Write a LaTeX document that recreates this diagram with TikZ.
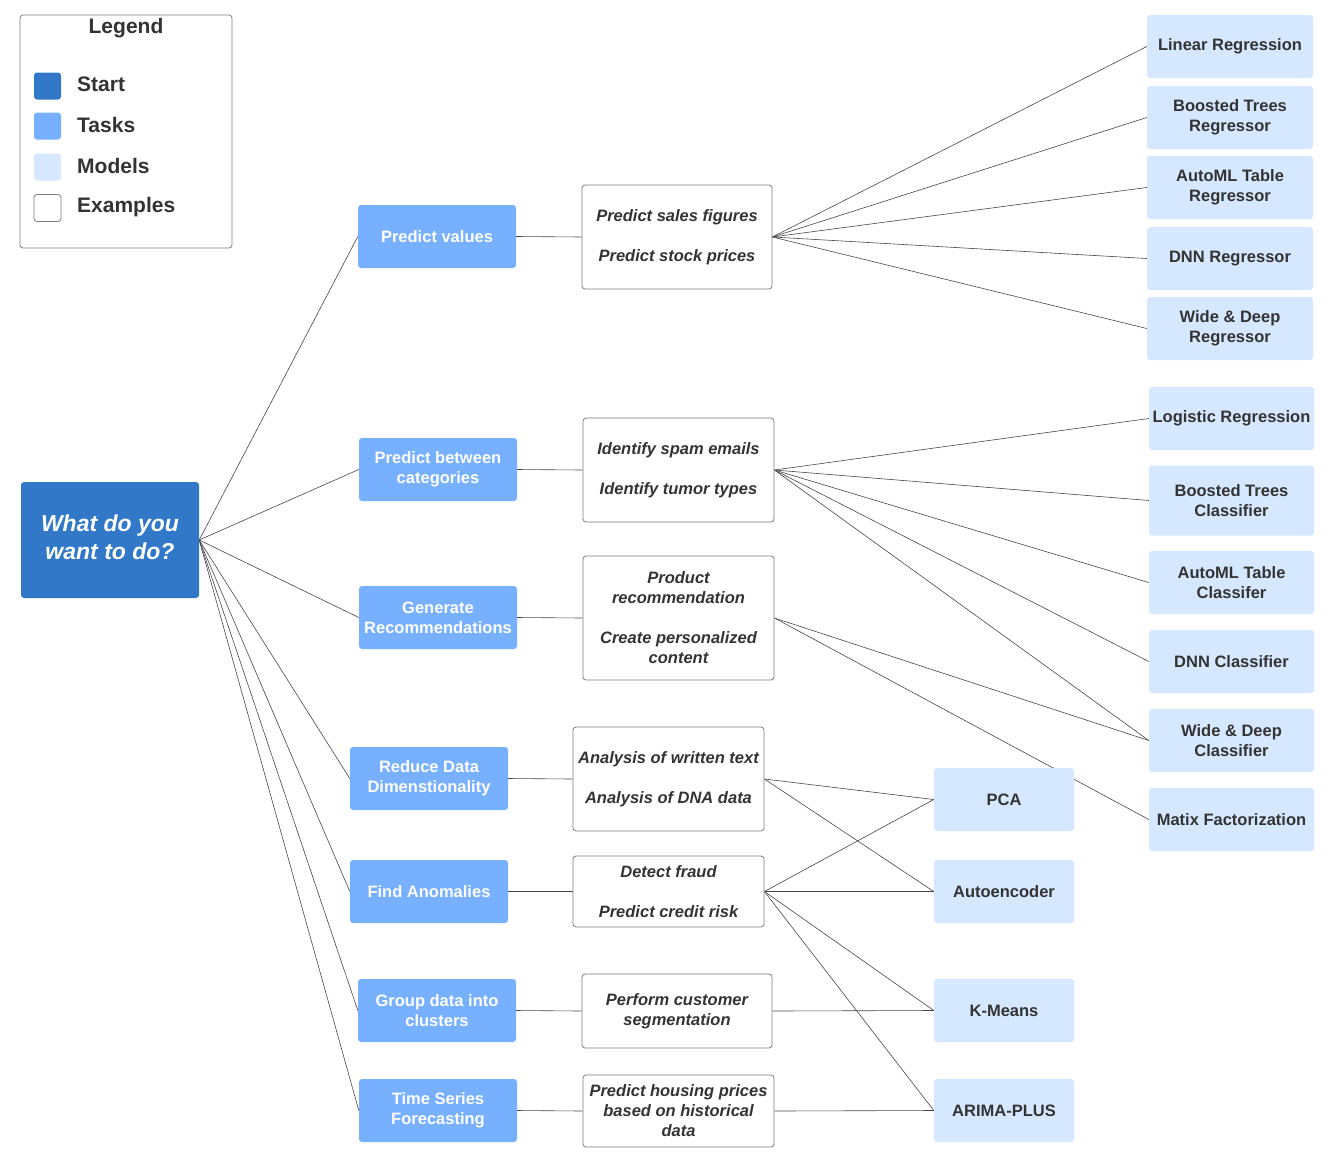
\documentclass[tikz,border=0pt]{standalone}
\usepackage{fontspec}
\setmainfont{Liberation Sans}
\usetikzlibrary{positioning, backgrounds}
\definecolor{startblue}{RGB}{49, 120, 200}
\definecolor{taskblue}{RGB}{118, 176, 255}
\definecolor{modelblue}{RGB}{214, 232, 255}
\definecolor{textgray}{RGB}{51, 51, 51}
\definecolor{linegray}{RGB}{70, 70, 70}
\definecolor{boxgray}{RGB}{125, 125, 125}

\tikzset{
  base/.style={font=\fontsize{16.5}{20}\selectfont\bfseries, align=center, inner sep=0pt},
  task/.style={base, fill=taskblue, rounded corners=3pt, text=white, minimum width=158pt, minimum height=63pt},
  model/.style={base, fill=modelblue, rounded corners=3pt, text=textgray, minimum width=166pt, minimum height=63pt},
  midmodel/.style={model, minimum width=140pt},
  example/.style={base, font=\fontsize{16.5}{20}\selectfont\bfseries\itshape, draw=boxgray, line width=0.8pt, fill=white, rounded corners=3pt, text=textgray, minimum width=191pt},
  swatch/.style={rounded corners=3pt, minimum size=27pt, inner sep=0pt},
  legendtext/.style={font=\fontsize{21}{25}\selectfont\bfseries, text=textgray, anchor=west, inner sep=0pt},
  link/.style={draw=linegray, line width=0.6pt},
}

\begin{document}
\begin{tikzpicture}[x=1pt, y=-1pt]
  \useasboundingbox (0, 0) rectangle (1333, 1157);

  % Legend
  \node[draw=boxgray, line width=0.8pt, rounded corners=3pt, minimum width=212pt, minimum height=233pt] (legend) at (126, 131.5) {};
  \node[font=\fontsize{21}{25}\selectfont\bfseries, text=textgray] (legtitle) at (126, 28) {Legend};
  \node[swatch, fill=startblue] (swstart) at (47.5, 86) {};
  \node[swatch, fill=taskblue] (swtask) at (47.5, 126) {};
  \node[swatch, fill=modelblue] (swmodel) at (47.5, 167) {};
  \node[swatch, draw=boxgray, line width=0.8pt, fill=white] (swex) at (47.5, 208) {};
  \node[legendtext] (lstart) at (77, 84) {Start};
  \node[legendtext] (ltask) at (77, 125) {Tasks};
  \node[legendtext] (lmodel) at (77, 166) {Models};
  \node[legendtext] (lex) at (77, 207) {Examples};

  % Start
  \node[fill=startblue, rounded corners=3pt, text=white, minimum width=178pt, minimum height=116pt, align=center, inner sep=0pt, font=\fontsize{23}{28.5}\selectfont\bfseries\itshape] (start) at (110, 540) {What do you\\want to do?\\[-23pt]};

  % Tasks
  \node[task] (pv) at (437, 236.5) {Predict values};
  \node[task] (cat) at (438, 469.5) {Predict between\\categories};
  \node[task] (rec) at (438, 617.5) {Generate\\Recommendations};
  \node[task] (red) at (429, 778.5) {Reduce Data\\Dimenstionality};
  \node[task] (anom) at (429, 891.5) {Find Anomalies};
  \node[task] (grp) at (437, 1010.5) {Group data into\\clusters};
  \node[task] (ts) at (438, 1110.5) {Time Series\\Forecasting};

  % Examples
  \node[example, minimum height=104pt, minimum width=190pt] (pvex) at (677, 237) {Predict sales figures\\[20pt]Predict stock prices};
  \node[example, minimum height=104pt] (catex) at (678.5, 470) {Identify spam emails\\[20pt]Identify tumor types};
  \node[example, minimum height=124pt] (recex) at (678.5, 618) {Product\\recommendation\\[20pt]Create personalized\\content};
  \node[example, minimum height=104pt] (redex) at (668.5, 779) {Analysis of written text\\[20pt]Analysis of DNA data};
  \node[example, minimum height=71pt] (anomex) at (668.5, 891.5) {Detect fraud\\[20pt]Predict credit risk};
  \node[example, minimum height=74pt, minimum width=190pt] (grpex) at (677, 1011) {Perform customer\\segmentation};
  \node[example, minimum height=72pt] (tsex) at (678.5, 1111) {Predict housing prices\\based on historical\\data};

  % Regression models
  \node[model] (linreg) at (1230, 46.5) {Linear Regression};
  \node[model] (btreg) at (1230, 117.5) {Boosted Trees\\Regressor};
  \node[model] (amreg) at (1230, 187.5) {AutoML Table\\Regressor};
  \node[model] (dnnreg) at (1230, 258.5) {DNN Regressor};
  \node[model] (wdreg) at (1230, 328.5) {Wide \& Deep\\Regressor};

  % Classification models
  \node[model, minimum width=165pt] (logreg) at (1231.5, 418.5) {Logistic Regression};
  \node[model, minimum width=165pt, minimum height=70pt] (btcls) at (1231.5, 500.5) {Boosted Trees\\Classifier};
  \node[model, minimum width=165pt] (amcls) at (1231.5, 582.5) {AutoML Table\\Classifer};
  \node[model, minimum width=165pt] (dnncls) at (1231.5, 661.5) {DNN Classifier};
  \node[model, minimum width=165pt] (wdcls) at (1231.5, 740.5) {Wide \& Deep\\Classifier};
  \node[model, minimum width=165pt] (matfac) at (1231.5, 819.5) {Matix Factorization};

  % Other models
  \node[midmodel] (pca) at (1004, 799.5) {PCA};
  \node[midmodel] (autoenc) at (1004, 891.5) {Autoencoder};
  \node[midmodel] (kmeans) at (1004, 1010.5) {K-Means};
  \node[midmodel] (arima) at (1004, 1110.5) {ARIMA-PLUS};

  % Connectors
  \begin{scope}[on background layer]
    \foreach \t in {pv, cat, rec, red, anom, grp, ts}
      \draw[link] (start.east) -- (\t.west);
    \foreach \t/\e in {pv/pvex, cat/catex, rec/recex, red/redex, anom/anomex, grp/grpex, ts/tsex}
      \draw[link] (\t.east) -- (\e.west);
    \foreach \m in {linreg, btreg, amreg, dnnreg, wdreg}
      \draw[link] (pvex.east) -- (\m.west);
    \foreach \m in {logreg, btcls, amcls, dnncls, wdcls}
      \draw[link] (catex.east) -- (\m.west);
    \foreach \m in {wdcls, matfac}
      \draw[link] (recex.east) -- (\m.west);
    \foreach \m in {pca, autoenc}
      \draw[link] (redex.east) -- (\m.west);
    \foreach \m in {pca, autoenc, kmeans, arima}
      \draw[link] (anomex.east) -- (\m.west);
    \draw[link] (grpex.east) -- (kmeans.west);
    \draw[link] (tsex.east) -- (arima.west);
  \end{scope}
\end{tikzpicture}
\end{document}
